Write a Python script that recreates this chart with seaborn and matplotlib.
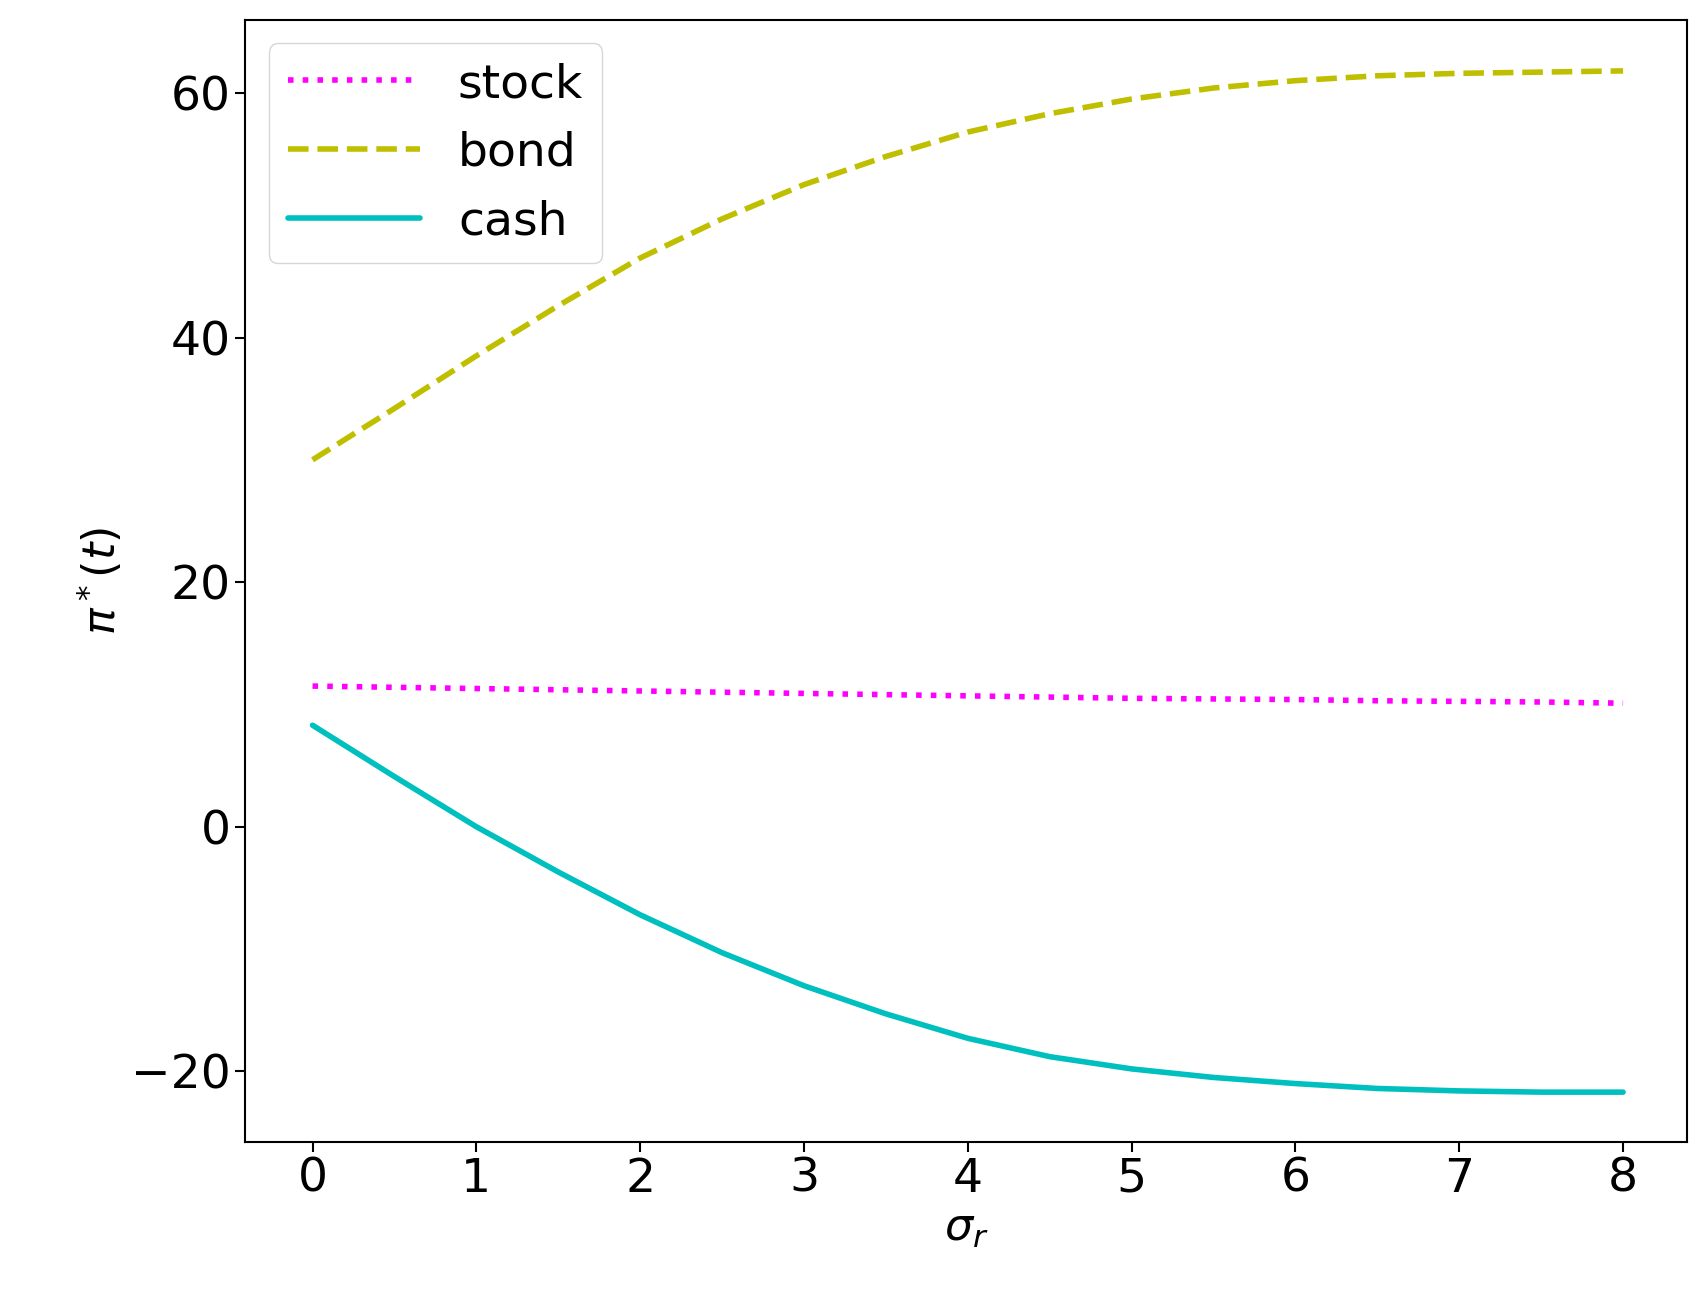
import numpy as np
import pandas as pd
import seaborn as sns
import matplotlib
matplotlib.use("Agg")
import matplotlib.pyplot as plt

sigma_r = [0, 0.5, 1, 1.5, 2, 2.5, 3, 3.5, 4, 4.5, 5, 5.5, 6, 6.5, 7, 7.5, 8]
stock = [11.5, 11.4, 11.3, 11.2, 11.1, 11.0, 10.9, 10.8, 10.7, 10.6, 10.5, 10.45, 10.4, 10.3, 10.25, 10.2, 10.1]
bond = [30.0, 34.2, 38.5, 42.6, 46.5, 49.7, 52.5, 54.8, 56.8, 58.3, 59.5, 60.4, 61.0, 61.4, 61.6, 61.7, 61.8]
cash = [8.3, 4.1, 0.0, -3.7, -7.2, -10.3, -13.0, -15.3, -17.3, -18.8, -19.8, -20.5, -21.0, -21.4, -21.6, -21.7, -21.7]

sns.set_style("ticks")
plt.rcParams['font.family'] = ['DejaVu Sans']
plt.rcParams['text.color'] = 'black'
plt.rcParams['axes.labelcolor'] = 'black'
plt.rcParams['xtick.color'] = 'black'
plt.rcParams['ytick.color'] = 'black'
plt.rcParams['axes.edgecolor'] = 'black'
fig = plt.figure(figsize=(17.04, 13.01), dpi=100)
ax = fig.add_axes([0.144, 0.122, 0.846, 0.863])

df = pd.DataFrame({"x": sigma_r, "stock": stock, "bond": bond, "cash": cash})
sns.lineplot(data=df, x="x", y="stock", ax=ax, color="#ff00ff", lw=4, linestyle=":", label="stock")
sns.lineplot(data=df, x="x", y="bond", ax=ax, color="#bfbf00", lw=4, linestyle="--", label="bond")
sns.lineplot(data=df, x="x", y="cash", ax=ax, color="#00bfbf", lw=4, linestyle="-", label="cash")

ax.set_xlim(-0.41, 8.39)
ax.set_ylim(-25.8, 66)
ax.set_xticks(range(9))
ax.set_yticks([-20, 0, 20, 40, 60])
ax.tick_params(labelsize=34, width=1.5, length=7)
for s in ax.spines.values():
    s.set_linewidth(1.5)
ax.set_xlabel(r"$\sigma_r$", fontsize=32)
ax.set_ylabel(r"$\pi^*(t)$", fontsize=32)
ax.legend(loc="upper left", fontsize=34, handlelength=2.8, labelspacing=0.5)
fig.savefig("out.png", dpi=100)
